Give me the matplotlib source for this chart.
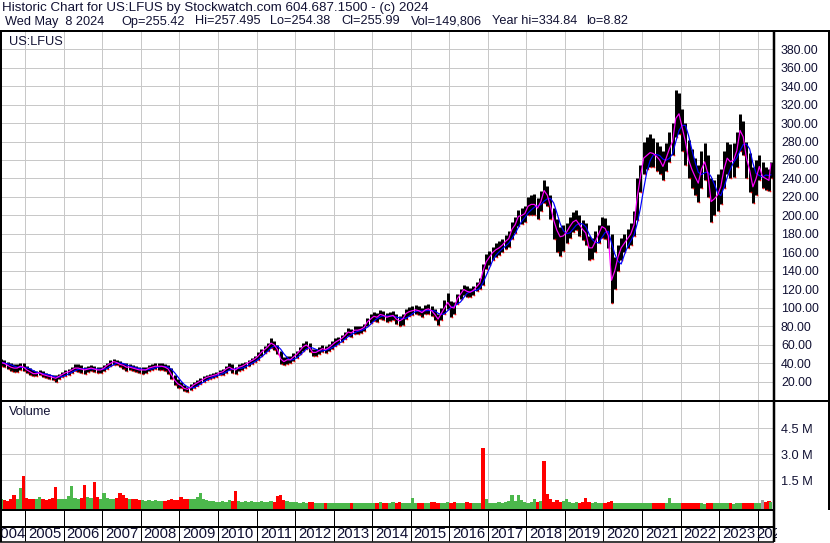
import matplotlib
matplotlib.use("Agg")
import matplotlib.pyplot as plt
import numpy as np
import pandas as pd
from matplotlib.lines import Line2D
from matplotlib.transforms import Bbox

plt.rcParams['font.family'] = ['Liberation Sans', 'DejaVu Sans']

# ---------------- data (monthly, May 2004 .. May 2024) ----------------
close = [
    41, 40, 38, 36, 35, 35, 37, 36,                                  # 2004
    33, 31, 29, 29, 30, 28, 27, 26, 25, 24, 26, 28,                  # 2005
    30, 31, 33, 35, 35, 34, 33, 34, 35, 34, 33, 33,                  # 2006
    35, 38, 40, 42, 41, 39, 38, 36, 36, 35, 34, 33,                  # 2007
    33, 33, 35, 36, 37, 37, 37, 36, 34, 28, 22, 18,                  # 2008
    16, 13, 12, 14, 17, 19, 21, 23, 25, 26, 27, 28,                  # 2009
    30, 31, 34, 36, 34, 33, 36, 37, 39, 41, 43, 45,                  # 2010
    48, 52, 55, 58, 62, 60, 55, 45, 42, 44, 44, 47,                  # 2011
    50, 54, 58, 60, 57, 52, 52, 54, 56, 55, 57, 60,                  # 2012
    63, 65, 67, 70, 74, 73, 76, 76, 77, 79, 85, 88,                  # 2013
    91, 90, 93, 92, 90, 91, 92, 88, 86, 88, 94, 96,                  # 2014
    97, 98, 97, 95, 98, 99, 97, 93, 88, 94, 100, 106,                # 2015
    101, 100, 110, 115, 120, 118, 117, 119, 123, 127, 140, 150,      # 2016
    155, 160, 163, 165, 168, 172, 175, 185, 190, 199, 200, 202,      # 2017
    210, 212, 212, 208, 215, 227, 222, 210, 195, 184, 177, 178,      # 2018
    182, 188, 193, 195, 190, 185, 181, 165, 165, 172, 180, 188,      # 2019
    186, 178, 130, 140, 155, 165, 170, 175, 180, 190, 220, 242,      # 2020
    262, 265, 268, 267, 264, 260, 253, 262, 272, 280, 305, 310,      # 2021
    295, 280, 260, 250, 242, 235, 250, 258, 245, 215, 218, 222,      # 2022
    231, 250, 262, 258, 260, 270, 292, 285, 262, 249, 231, 240,      # 2023
    253, 242, 240, 238, 256,                                         # 2024
]
high = [
    45, 44, 42, 40, 39, 39, 41, 40,
    37, 35, 33, 32, 33, 32, 30, 29, 28, 27, 29, 31,
    33, 34, 36, 39, 39, 38, 36, 37, 38, 37, 36, 36,
    38, 41, 44, 45, 44, 43, 41, 40, 39, 38, 37, 36,
    36, 36, 38, 39, 40, 40, 40, 39, 38, 35, 28, 23,
    20, 17, 15, 18, 20, 22, 24, 26, 28, 29, 30, 31,
    33, 34, 37, 40, 39, 36, 39, 40, 42, 44, 46, 48,
    52, 56, 59, 62, 67, 64, 60, 53, 47, 48, 48, 51,
    54, 58, 62, 64, 62, 56, 56, 58, 60, 59, 61, 64,
    67, 69, 71, 74, 78, 77, 80, 80, 81, 83, 89, 93,
    96, 95, 98, 97, 95, 96, 97, 93, 91, 93, 99, 101,
    102, 103, 102, 100, 103, 104, 102, 99, 94, 100, 109, 116,
    108, 106, 115, 120, 125, 124, 122, 124, 128, 132, 148, 158,
    162, 166, 170, 172, 175, 179, 183, 193, 198, 206, 208, 210,
    220, 222, 223, 219, 226, 238, 232, 222, 208, 196, 188, 190,
    192, 198, 204, 206, 200, 195, 192, 178, 176, 183, 190, 198,
    197, 190, 180, 155, 168, 176, 180, 185, 192, 205, 240, 255,
    280, 285, 288, 284, 280, 275, 270, 278, 290, 300, 336, 332,
    315, 300, 282, 272, 262, 255, 270, 278, 265, 240, 238, 245,
    250, 270, 280, 277, 278, 290, 310, 302, 280, 268, 252, 260,
    265, 258, 252, 250, 258,
]
low = [
    37, 36, 34, 32, 31, 31, 33, 32,
    30, 28, 26, 26, 27, 25, 24, 23, 22, 20, 23, 25,
    26, 28, 30, 32, 31, 30, 29, 31, 32, 31, 30, 30,
    32, 34, 37, 38, 38, 36, 34, 32, 33, 32, 31, 30,
    29, 30, 32, 33, 34, 33, 33, 32, 29, 23, 17, 14,
    13, 10, 9, 11, 13, 16, 18, 20, 22, 23, 24, 25,
    27, 28, 30, 33, 30, 29, 32, 33, 35, 37, 39, 42,
    44, 48, 51, 54, 57, 55, 50, 39, 38, 39, 40, 43,
    46, 50, 54, 56, 52, 48, 48, 50, 52, 51, 53, 56,
    59, 61, 63, 66, 70, 69, 72, 72, 73, 75, 80, 84,
    86, 85, 88, 87, 85, 86, 87, 83, 80, 82, 88, 91,
    92, 93, 92, 90, 93, 94, 91, 87, 82, 87, 93, 99,
    90, 93, 104, 110, 114, 112, 112, 114, 118, 120, 125, 142,
    146, 152, 155, 157, 160, 164, 166, 175, 181, 189, 191, 193,
    200, 200, 200, 196, 205, 214, 210, 196, 175, 160, 156, 162,
    170, 176, 182, 184, 178, 173, 168, 152, 153, 160, 170, 176,
    175, 165, 105, 120, 140, 152, 160, 165, 168, 178, 195, 225,
    245, 250, 252, 252, 248, 245, 238, 248, 258, 265, 285, 288,
    270, 255, 240, 230, 222, 215, 230, 238, 220, 193, 200, 205,
    212, 230, 245, 240, 242, 252, 270, 265, 240, 225, 213, 222,
    238, 230, 228, 226, 240,
]
volume_m = [
    0.40, 0.35, 0.30, 0.45, 0.65, 0.45, 1.05, 1.75,
    0.50, 0.45, 0.40, 0.40, 0.55, 0.40, 0.35, 0.40, 0.50, 1.10, 0.45, 0.40,
    0.45, 0.60, 1.17, 0.50, 0.45, 0.50, 1.23, 0.55, 0.50, 1.40, 0.55, 0.45,
    0.75, 0.50, 0.45, 0.45, 0.50, 0.75, 0.65, 0.50, 0.45, 0.40, 0.40, 0.35,
    0.35, 0.30, 0.35, 0.30, 0.35, 0.30, 0.30, 0.30, 0.35, 0.40, 0.35, 0.35,
    0.55, 0.40, 0.45, 0.40, 0.45, 0.55, 0.75, 0.40, 0.35, 0.30, 0.30, 0.25,
    0.25, 0.30, 0.25, 0.35, 0.30, 0.88, 0.30, 0.25, 0.30, 0.25, 0.30, 0.25,
    0.25, 0.30, 0.25, 0.25, 0.30, 0.25, 0.60, 0.65, 0.35, 0.30, 0.25, 0.25,
    0.25, 0.20, 0.25, 0.20, 0.25, 0.25, 0.20, 0.18, 0.22, 0.20, 0.22, 0.20,
    0.20, 0.18, 0.20, 0.22, 0.18, 0.20, 0.18, 0.18, 0.20, 0.22, 0.18, 0.20,
    0.20, 0.22, 0.25, 0.20, 0.18, 0.18, 0.25, 0.20, 0.25, 0.22, 0.20, 0.20,
    0.50, 0.22, 0.20, 0.22, 0.18, 0.20, 0.25, 0.28, 0.22, 0.20, 0.22, 0.25,
    0.22, 0.25, 0.20, 0.22, 0.20, 0.25, 0.20, 0.22, 0.20, 0.22, 3.35, 0.40,
    0.22, 0.20, 0.22, 0.25, 0.22, 0.25, 0.30, 0.65, 0.30, 0.65, 0.35, 0.25,
    0.22, 0.25, 0.40, 0.25, 0.30, 2.61, 0.70, 0.45, 0.28, 0.35, 0.28, 0.30,
    0.45, 0.25, 0.22, 0.25, 0.22, 0.28, 0.50, 0.25, 0.22, 0.25, 0.22, 0.20,
    0.22, 0.28, 0.30, 0.20, 0.18, 0.22, 0.18, 0.18, 0.20, 0.18, 0.20, 0.22,
    0.18, 0.18, 0.22, 0.18, 0.18, 0.18, 0.20, 0.22, 0.50, 0.18, 0.18, 0.20,
    0.18, 0.22, 0.18, 0.18, 0.20, 0.22, 0.18, 0.15, 0.18, 0.22, 0.18, 0.18,
    0.18, 0.18, 0.20, 0.18, 0.15, 0.18, 0.18, 0.20, 0.18, 0.22, 0.18, 0.22,
    0.18, 0.35, 0.25, 0.30, 0.25,
]
red_volume_months = ['2016-11', '2018-06']
gray_volume_months = ['2024-02']
price_ticks = list(range(20, 400, 20))
volume_ticks = [1.5, 3.0, 4.5]
years = list(range(2004, 2025))
header1 = "Historic Chart for US:LFUS by Stockwatch.com 604.687.1500 - (c) 2024"
header2_fields = ["Wed May  8 2024", "Op=255.42", "Hi=257.495", "Lo=254.38",
                  "Cl=255.99", "Vol=149,806", "Year hi=334.84", "lo=8.82"]
header2_x_px = [5, 121.5, 195, 270, 341.5, 410.5, 492, 586]

# ---------------- layout helpers ----------------
W, H = 830, 543
fig = plt.figure(figsize=(W / 100, H / 100), dpi=100)
fig.patch.set_facecolor('white')
PX = 0.72  # points per pixel
TXT = '#111133'


def px_axes(x0, y0, x1, y1):
    return fig.add_axes([x0 / W, 1 - y1 / H, (x1 - x0) / W, (y1 - y0) / H])


def fig_line(x0, y0, x1, y1, lw_px=2):
    fig.add_artist(Line2D([x0 / W, x1 / W], [1 - y0 / H, 1 - y1 / H],
                          transform=fig.transFigure, color='black',
                          lw=lw_px * PX, solid_capstyle='butt'))


T0, T1 = 2004.345, 2024.423
PX_PER_YEAR = 774 / (T1 - T0)
dates = pd.date_range('2004-05-01', periods=len(close), freq='MS')
t = np.array(dates.year + (dates.month - 0.5) / 12.0, dtype=float)
t[-1] = 2024.34
close_s = pd.Series(close, dtype=float)
ma_long = close_s.rolling(4, min_periods=1).mean()

# ---------------- main price panel ----------------
ax = px_axes(0, 32, 774, 400)
ax.set_xlim(T0, T1)
ax.set_ylim(0.5, 398.4)
for s in ax.spines.values():
    s.set_visible(False)
ax.set_xticks(years[1:])
ax.set_yticks(price_ticks)
ax.grid(True, color='#c8c8c8', lw=1.0 * PX)
ax.set_axisbelow(True)
ax.tick_params(axis='x', length=0, labelbottom=False)
ax.yaxis.tick_right()
ax.tick_params(axis='y', length=0, pad=5, labelsize=8.9, labelcolor=TXT)
ax.set_yticklabels([f'{v:.2f}' for v in price_ticks])

ax.vlines(t, low, high, colors='black', lw=3.0 * PX, zorder=3)
ax.plot(t + 0.025, low, ls='none', marker='s', ms=1.5 * PX, color='red',
        mew=0, zorder=4)
ax.plot(t, ma_long, color='#0000ff', lw=1.2 * PX, zorder=5)
ax.plot(t, close_s, color='#ff00ff', lw=1.2 * PX, zorder=6)
ax.text(9 / 774, 1 - 4 / 368, 'US:LFUS', transform=ax.transAxes,
        ha='left', va='top', fontsize=9.2, color=TXT)

# ---------------- volume panel ----------------
vax = px_axes(0, 402, 774, 510)
vax.set_xlim(T0, T1)
vax.set_ylim(-0.21, 6.02)
for s in vax.spines.values():
    s.set_visible(False)
vax.set_xticks(years[1:])
vax.set_yticks(volume_ticks)
vax.grid(True, color='#c8c8c8', lw=1.0 * PX)
vax.set_axisbelow(True)
vax.tick_params(axis='x', length=0, labelbottom=False)
vax.yaxis.tick_right()
vax.tick_params(axis='y', length=0, pad=5, labelsize=9.2, labelcolor=TXT)
vax.set_yticklabels([f'{v:.1f} M' for v in volume_ticks])

vcolors = []
for i, d in enumerate(dates):
    key = d.strftime('%Y-%m')
    if key in gray_volume_months:
        vcolors.append('#a0a0a0')
    elif key in red_volume_months:
        vcolors.append('#ff0000')
    elif i > 0 and close[i] < close[i - 1]:
        vcolors.append('#ff0000')
    else:
        vcolors.append('#4cb84c')
vax.bar(t, np.array(volume_m) + 0.21, bottom=-0.21, width=1 / 12.0,
        color=vcolors, lw=0, zorder=3)
vax.text(9 / 774, 1 - 4 / 108, 'Volume', transform=vax.transAxes,
         ha='left', va='top', fontsize=9.2, color=TXT)

# ---------------- year strip ----------------
yax = px_axes(0, 510, 774, 542)
yax.set_xlim(T0, T1)
yax.set_ylim(32, 0)
yax.axis('off')
for y in years[1:]:
    yax.vlines(y, 0, 31, colors='black', lw=1 * PX)
clip = Bbox.from_extents(0, 0, 777, H)
for y in years:
    if y == 2024:
        txt = yax.text(T0 + 756 / PX_PER_YEAR, 24.5, str(y), ha='left',
                       va='center', fontsize=10.7, color=TXT)
    elif y == 2004:
        txt = yax.text(T0 + 8.5 / PX_PER_YEAR, 24.5, str(y), ha='center',
                       va='center', fontsize=10.7, color=TXT)
    else:
        txt = yax.text(y + 0.5, 24.5, str(y), ha='center', va='center',
                       fontsize=10.7, color=TXT)
    txt.set_clip_on(True)
    txt.set_clip_box(clip)

# ---------------- frame lines ----------------
fig_line(0, 31, W, 31, 2)          # header rule
fig_line(1, 31, 1, 542, 2)         # left border
fig_line(774, 31, 774, 542, 2.5)   # right border of chart
fig_line(829, 31, 829, 510, 2)     # outer right border
fig_line(0, 401, W, 401, 2)        # price / volume separator
fig_line(0, 510, 774, 510, 2)      # volume bottom
fig_line(0, 527, 774, 527, 2)      # year strip rule
fig_line(0, 541.5, 774, 541.5, 1.5)

fig.text(2 / W, 1 - 1.5 / H, header1, ha='left', va='top', fontsize=9.65,
         color=TXT)
for s, xp in zip(header2_fields, header2_x_px):
    fig.text(xp / W, 1 - 15.5 / H, s, ha='left', va='top', fontsize=9.2,
             color=TXT)

fig.savefig('out.png', dpi=100, facecolor='white')
